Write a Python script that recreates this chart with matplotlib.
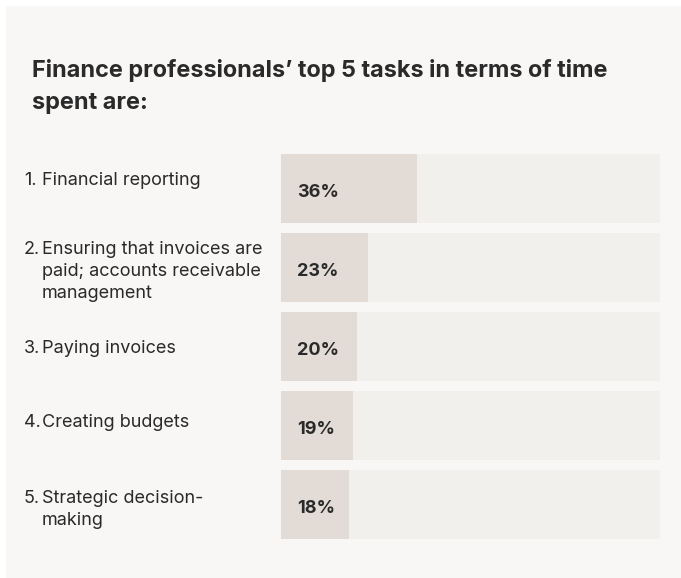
import matplotlib.pyplot as plt
from matplotlib.patches import Rectangle

tasks = [
    "Financial reporting",
    "Ensuring that invoices are\npaid; accounts receivable\nmanagement",
    "Paying invoices",
    "Creating budgets",
    "Strategic decision-\nmaking",
]
shares = [36, 23, 20, 19, 18]
title = "Finance professionals\u2019 top 5 tasks in terms of time\nspent are:"

W, H = 681, 578
panel_bg = "#f9f7f5"
track_col = "#f2f0ec"
fill_col = "#e3dcd6"
ink = "#2a2a2a"

# baseline of the first label line, per row (pixels from top)
label_base = [185, 254, 353, 427, 503]
line_pitch = 22

fig = plt.figure(figsize=(W / 100, H / 100), dpi=100)
fig.patch.set_facecolor("white")

# full-figure pixel canvas for the panel and text
bg = fig.add_axes([0, 0, 1, 1])
bg.set_xlim(0, W)
bg.set_ylim(H, 0)
bg.axis("off")
bg.add_patch(Rectangle((6, 6), W - 6, H - 6, facecolor=panel_bg, edgecolor="none"))

for k, line in enumerate(title.split("\n")):
    bg.text(32, 77 + 32 * k, line, fontfamily="Inter", fontweight="bold",
            fontsize=16.9, color=ink, va="baseline", ha="left")

for i, (task, y) in enumerate(zip(tasks, label_base)):
    bg.text(24, y, f"{i + 1}.", fontfamily="Inter", fontsize=13, color=ink,
            va="baseline", ha="left")
    for k, line in enumerate(task.split("\n")):
        bg.text(42, y + line_pitch * k, line, fontfamily="Inter", fontsize=13,
                color=ink, va="baseline", ha="left")

# bar area: 5 rows of 69 px bars on a 79 px pitch
x0, x1, y0, y1 = 281, 660, 154, 539
ax = fig.add_axes([x0 / W, 1 - y1 / H, (x1 - x0) / W, (y1 - y0) / H])
ax.set_facecolor("none")
n = len(shares)
h = 69 / 79
ypos = list(range(n))
ax.barh(ypos, [100] * n, height=h, color=track_col, edgecolor="none")
ax.barh(ypos, shares, height=h, color=fill_col, edgecolor="none")
ax.set_xlim(0, 100)
ax.set_ylim(n - 1 + h / 2, -h / 2)
ax.axis("off")

for y, v in zip(ypos, shares):
    ax.annotate(f"{v}%", (0, y), xytext=(16, -8.5), textcoords="offset pixels",
                fontfamily="Inter", fontweight="bold", fontsize=13, color=ink,
                va="baseline", ha="left")

fig.savefig("out.png", dpi=100, facecolor=fig.get_facecolor())
